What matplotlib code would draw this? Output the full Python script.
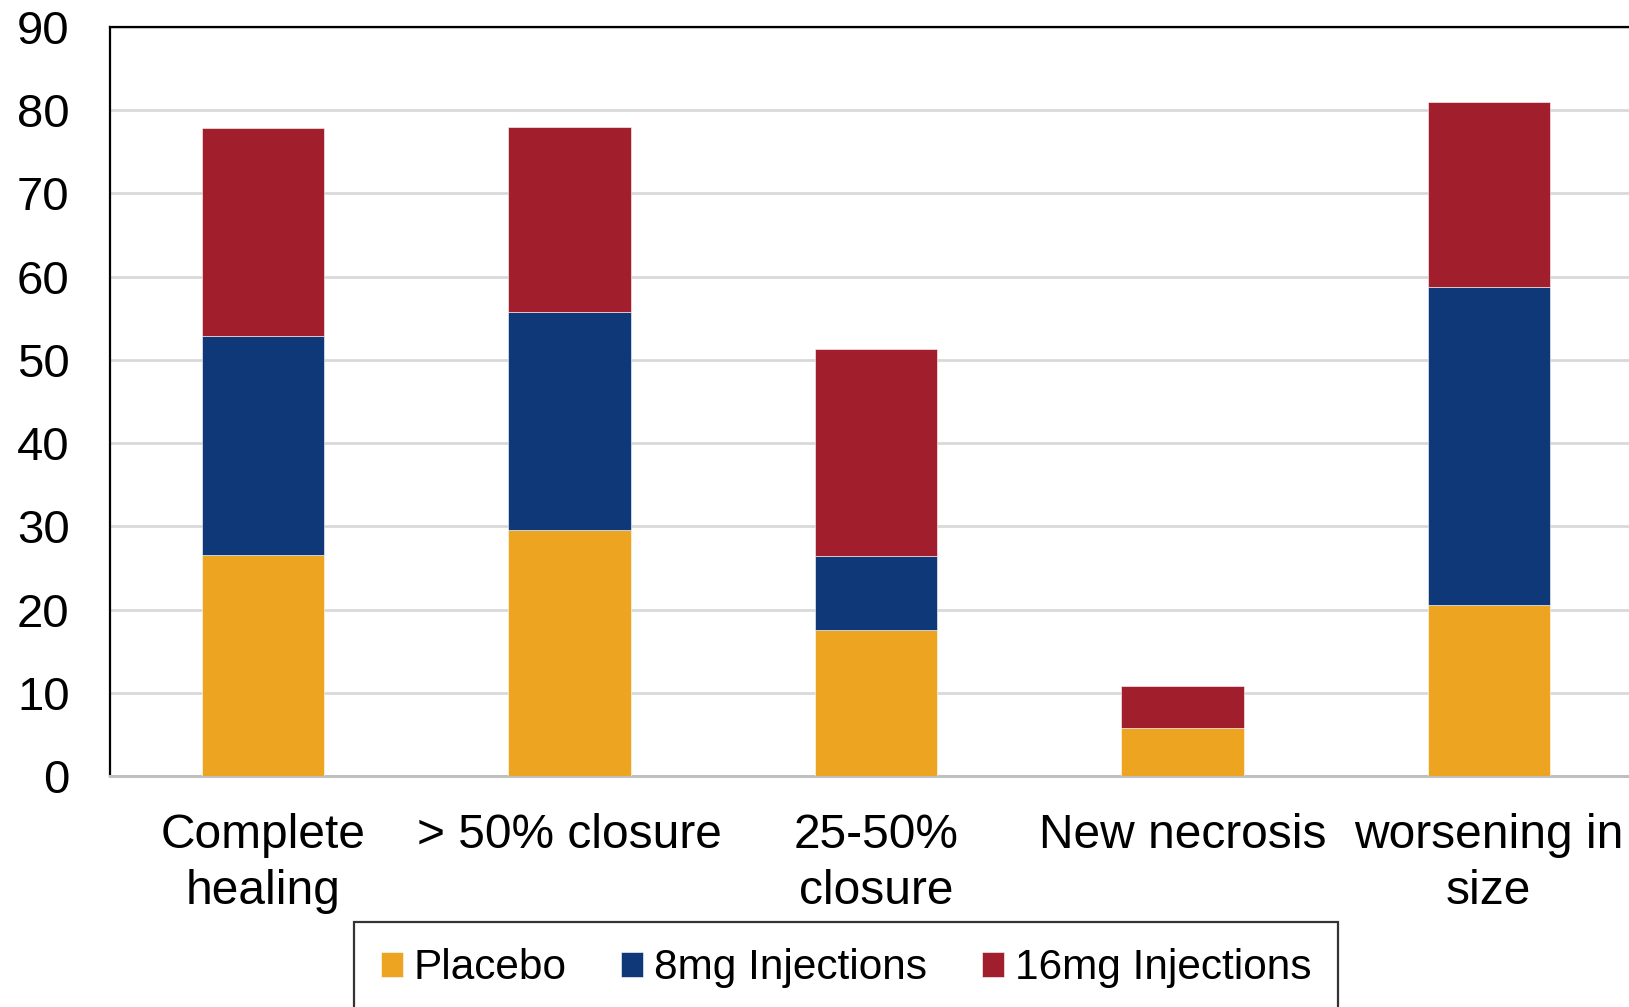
import matplotlib
matplotlib.use("Agg")
import matplotlib.pyplot as plt
import numpy as np

categories = ["Complete\nhealing", "> 50% closure", "25-50%\nclosure",
              "New necrosis", "worsening in\nsize"]
placebo = [26.5, 29.5, 17.6, 5.8, 20.6]
inj_8mg = [26.4, 26.3, 8.8, 0.0, 38.2]
inj_16mg = [25.0, 22.2, 24.9, 5.0, 22.2]
series_names = ["Placebo", "8mg Injections", "16mg Injections"]
y_ticks = list(range(0, 91, 10))

colors = ["#EDA521", "#0E3878", "#A11F2D"]

plt.rcParams["font.family"] = ["Liberation Sans", "DejaVu Sans"]

W, H, DPI = 1629, 1007, 100
fig = plt.figure(figsize=(W / DPI, H / DPI), dpi=DPI)
ax = fig.add_axes([110 / W, 1 - 776 / H, 1532 / W, 749 / H])

x = np.arange(len(categories))
bottom = np.zeros(len(categories))
for name, vals, c in zip(series_names, [placebo, inj_8mg, inj_16mg], colors):
    ax.bar(x, vals, width=0.4, bottom=bottom, color=c, label=name,
           edgecolor="white", linewidth=0.4, zorder=3)
    bottom += np.array(vals)

ax.set_xlim(-0.5, len(categories) - 0.5)
ax.set_ylim(0, 90)
ax.set_yticks(y_ticks)
ax.set_xticks(x)
ax.set_xticklabels(categories, fontsize=34.5, linespacing=1.3)
ax.tick_params(axis="y", length=0, pad=29, labelsize=34)
ax.tick_params(axis="x", length=0, pad=27)

ax.yaxis.grid(True, color="#D9D9D9", linewidth=2, zorder=0)
ax.set_axisbelow(True)

ax.spines["left"].set_color("black")
ax.spines["left"].set_linewidth(1.6)
ax.spines["top"].set_color("black")
ax.spines["top"].set_linewidth(1.6)
ax.spines["bottom"].set_color("#BFBFBF")
ax.spines["bottom"].set_linewidth(2.2)
ax.spines["right"].set_visible(False)

leg = fig.legend(loc="upper center", bbox_to_anchor=(846 / W, 1 - 922 / H),
                 ncol=3, fontsize=30.5, frameon=True, fancybox=False,
                 handlelength=0.52, handleheight=0.52, handletextpad=0.25,
                 columnspacing=1.3, borderpad=0.62, borderaxespad=0)
leg.get_frame().set_edgecolor("black")
leg.get_frame().set_linewidth(1.6)

fig.savefig("out.png", dpi=DPI)
